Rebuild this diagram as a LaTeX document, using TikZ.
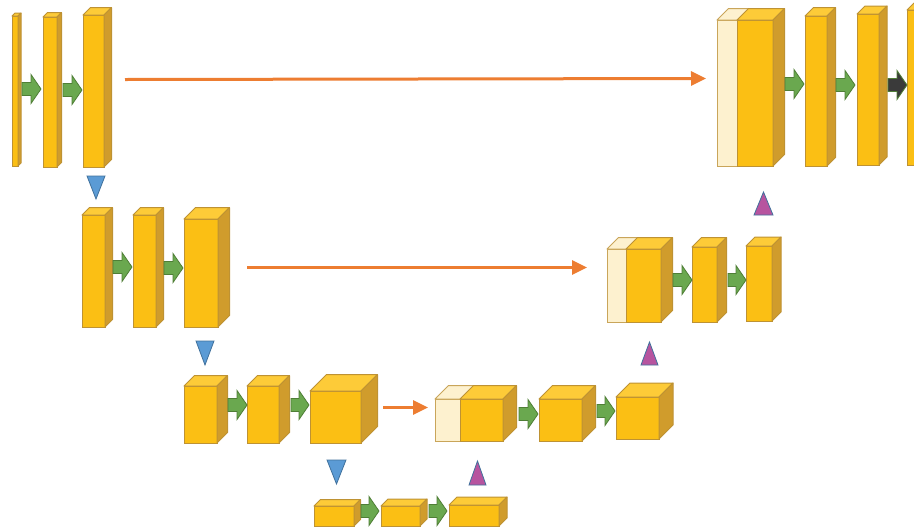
\documentclass[tikz,border=0pt]{standalone}
\usetikzlibrary{arrows.meta}
\definecolor{yfront}{HTML}{FBBF14}
\definecolor{ytop}{HTML}{FDCB38}
\definecolor{yside}{HTML}{D09C2C}
\definecolor{yedge}{HTML}{BE9233}
\definecolor{cream}{HTML}{FDF1CF}
\definecolor{creamedge}{HTML}{C9A55A}
\definecolor{garrow}{HTML}{6AA84F}
\definecolor{gedge}{HTML}{4F7E36}
\definecolor{darkarrow}{HTML}{3A3A3A}
\definecolor{btri}{HTML}{5B9BD5}
\definecolor{bedge}{HTML}{41719C}
\definecolor{ptri}{HTML}{B7549F}
\definecolor{orangeA}{HTML}{ED7D31}
\tikzset{
  front/.style={draw=yedge,fill=yfront,line width=1pt,inner sep=0pt,outer sep=0pt,anchor=north west,rectangle},
  creambox/.style={front,fill=cream,draw=creamedge},
  topf/.style={draw=yedge,fill=ytop,line width=1pt,line join=round},
  sidef/.style={draw=yedge,fill=yside,line width=1pt,line join=round},
  ctopf/.style={draw=creamedge,fill=cream,line width=1pt,line join=round},
  gblock/.style={draw=gedge,fill=garrow,line width=0.8pt,line join=miter},
  dblock/.style={draw=gedge,fill=darkarrow,line width=0.8pt},
  downtri/.style={draw=bedge,fill=btri,line width=0.8pt},
  uptri/.style={draw=bedge,fill=ptri,line width=0.8pt},
  oarrow/.style={draw=orangeA,line width=3pt,-{Triangle[length=15pt,width=14pt]}},
}
% cuboid: name, x, ytop, w, h, d, style of front
\newcommand\cubY[6]{%
  \node[front,minimum width=#4pt,minimum height=#5pt] (#1) at (#2,#3) {};
  \draw[topf] (#1.north west) -- ++(#6,-#6) -- ++(#4,0) -- (#1.north east) -- cycle;
  \draw[sidef] (#1.north east) -- ++(#6,-#6) -- ++(0,#5) -- (#1.south east) -- cycle;
}
\newcommand\cubC[6]{%
  \node[creambox,minimum width=#4pt,minimum height=#5pt] (#1) at (#2,#3) {};
  \draw[ctopf] (#1.north west) -- ++(#6,-#6) -- ++(#4,0) -- (#1.north east) -- cycle;
  \draw[ctopf] (#1.north east) -- ++(#6,-#6) -- ++(0,#5) -- (#1.south east) -- cycle;
}
% block arrow: x1, x2, yc, style
\newcommand\blk[4]{%
  \draw[#4] (#1,#3-6.5) -- (#2-10,#3-6.5) -- (#2-10,#3-14.5) -- (#2,#3) -- (#2-10,#3+14.5) -- (#2-10,#3+6.5) -- (#1,#3+6.5) -- cycle;
}
\begin{document}
\begin{tikzpicture}[x=1pt,y=-1pt]
\useasboundingbox (0,0) rectangle (914,531);
\clip (0,0) rectangle (914,531);
% ---- row 1 left
\cubY{a1}{12}{16}{6}{150}{3}
\cubY{a2}{43}{17}{14}{150}{4.5}
\cubY{a3}{83}{15}{21}{152}{7.5}
\blk{22}{41}{89}{gblock}
\blk{63}{82}{90}{gblock}
% ---- row 1 right
\cubC{r1c}{717}{20}{35}{146}{11.5}
\cubY{r1a}{737}{20}{36}{146}{11.5}
\cubY{r1b}{805}{16}{22}{150}{8.5}
\cubY{r1d}{857}{14}{22}{151}{8}
\cubY{r1e}{907}{10}{24}{155}{7}
\blk{785}{804}{84}{gblock}
\blk{836}{855}{85}{gblock}
\blk{888}{907}{85}{dblock}
% ---- row 2 left
\cubY{b1}{82}{215}{23}{112}{7.5}
\cubY{b2}{133}{215}{23}{112}{7.5}
\cubY{b3}{184}{219}{34}{108}{11.5}
\blk{113}{132}{267}{gblock}
\blk{164}{183}{268}{gblock}
% ---- row 2 right
\cubC{r2c}{607}{249}{35}{73}{11.5}
\cubY{r2a}{626}{249}{35}{73}{11.5}
\cubY{r2b}{692}{247}{25}{75}{9.5}
\cubY{r2d}{746}{246}{26}{75}{9}
\blk{673}{692}{280}{gblock}
\blk{728}{746}{280}{gblock}
% ---- row 3 left
\cubY{c1}{184}{386}{33}{57}{10.5}
\cubY{c2}{247}{386}{32}{57}{10.5}
\cubY{c3}{310}{391}{51}{52}{16.5}
\blk{228}{247}{405}{gblock}
\blk{291}{309}{405}{gblock}
% ---- row 3 right
\cubC{r3c}{435}{399}{44}{42}{13.5}
\cubY{r3a}{460}{399}{43}{42}{13.5}
\cubY{r3b}{539}{399}{43}{42}{13.5}
\cubY{r3d}{616}{397}{43}{42}{14}
\blk{519}{538}{414}{gblock}
\blk{597}{615}{411}{gblock}
% ---- row 4
\cubY{d1}{314}{506}{40}{20}{6.5}
\cubY{d2}{381}{506}{39}{20}{7}
\cubY{d3}{449}{505}{50}{21}{8}
\blk{361}{379}{511}{gblock}
\blk{429}{447}{511}{gblock}
% ---- down triangles (pooling)
\draw[downtri] (87,176) -- (105,176) -- (96,199) -- cycle;
\draw[downtri] (196,341) -- (214,341) -- (205,365) -- cycle;
\draw[downtri] (327,460) -- (346,460) -- (336.5,484) -- cycle;
% ---- up triangles (upsampling)
\draw[uptri] (754,215) -- (773,215) -- (763.5,192) -- cycle;
\draw[uptri] (641,365) -- (658,365) -- (649.5,342) -- cycle;
\draw[uptri] (469,485) -- (486,485) -- (477.5,461) -- cycle;
% ---- skip connections
\coordinate (s1) at (125,79.5);
\coordinate (e1) at (706,78.5);
\coordinate (s2) at (247,267.5);
\coordinate (e2) at (587,267.5);
\coordinate (s3) at (383,407.5);
\coordinate (e3) at (428,407.5);
\draw[oarrow] (s1) -- (e1);
\draw[oarrow] (s2) -- (e2);
\draw[oarrow] (s3) -- (e3);
\end{tikzpicture}
\end{document}
